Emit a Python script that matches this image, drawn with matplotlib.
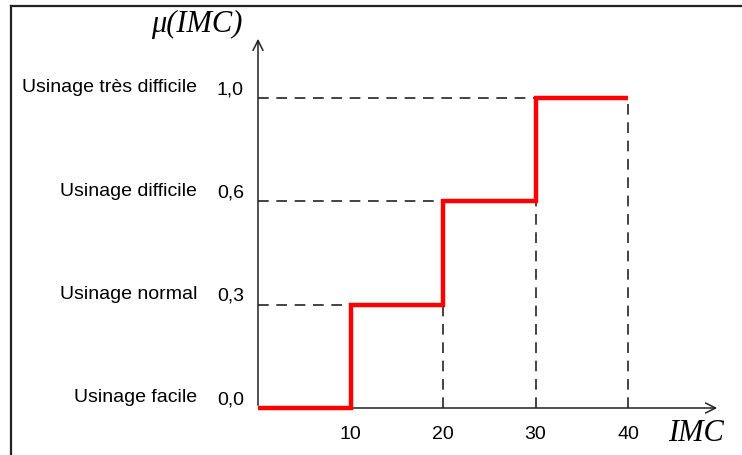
import matplotlib.pyplot as plt
from matplotlib.lines import Line2D

# step data
imc_edges = [0, 10, 20, 30, 40]
levels = [0, 1, 2, 3]
level_values = ['0,0', '0,3', '0,6', '1,0']
level_names = ['Usinage facile', 'Usinage normal', 'Usinage difficile', 'Usinage très difficile']
x_ticks = [10, 20, 30, 40]

W, H = 742, 455
fig = plt.figure(figsize=(W / 100, H / 100), dpi=100)
ax = fig.add_axes([0, 0, 1, 1])
ax.axis('off')

# map pixels -> data: x=0 at px 258, 9.25 px per unit; level 0 at py 408, 103.33 px per level
x0, sx = 258, 9.25
y0, sy = 408, 103.33
ax.set_xlim((0 - x0) / sx, (W - x0) / sx)
ax.set_ylim((y0 - H) / sy, y0 / sy)

# frame (top and left only)
fig.add_artist(Line2D([11 / W, 1], [1 - 6 / H, 1 - 6 / H], color='#222222', lw=1.6))
fig.add_artist(Line2D([11 / W, 11 / W], [0, 1 - 6 / H], color='#222222', lw=1.6))

# axes with arrows
ax.annotate('', xy=((720 - x0) / sx, 0), xytext=(0, 0),
            arrowprops=dict(arrowstyle='->', color='#222222', lw=1.1, mutation_scale=18))
ax.annotate('', xy=(0, (y0 - 36) / sy), xytext=(0, 0),
            arrowprops=dict(arrowstyle='->', color='#222222', lw=1.1, mutation_scale=18))

# dashed guides
dash = dict(color='#111111', lw=1.1, linestyle=(0, (7, 5)))
for i in range(1, 4):
    ax.plot([0, imc_edges[i]], [levels[i], levels[i]], **dash)
    ax.plot([imc_edges[i + 1], imc_edges[i + 1]], [0, levels[i]], **dash)

# red step curve
xs, ys = [imc_edges[0]], [levels[0]]
for i in range(4):
    if i > 0:
        xs.append(imc_edges[i]); ys.append(levels[i])
    xs.append(imc_edges[i + 1]); ys.append(levels[i])
ax.plot(xs, ys, color='#ff0000', lw=3.2, solid_joinstyle='miter', solid_capstyle='butt', zorder=5)

# labels
sans = 'Liberation Sans'
for lv, val, name in zip(levels, level_values, level_names):
    ax.text((244 - x0) / sx, lv + 0.08, val, ha='right', va='center', fontsize=14, family=sans)
    ax.text((197 - x0) / sx, lv + 0.1, name, ha='right', va='center', fontsize=14, family=sans)
for t in x_ticks:
    ax.text(t, -0.26, str(t), ha='center', va='center', fontsize=14, family=sans)

ax.text((668 - x0) / sx, -0.25, 'IMC', ha='left', va='center', fontsize=22,
        family='Liberation Serif', style='italic')
ax.text((242 - x0) / sx, (y0 - 24) / sy, 'μ(IMC)', ha='right', va='center', fontsize=22,
        family='Liberation Serif', style='italic')

fig.savefig('out.png', dpi=100)
